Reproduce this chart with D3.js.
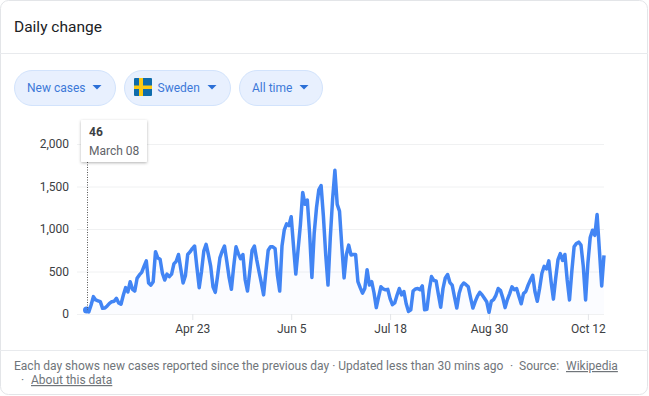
<!DOCTYPE html>
<html>
<head>
<meta charset="utf-8">
<script src="https://cdn.jsdelivr.net/npm/d3@7"></script>
<style>
    html, body { margin: 0; padding: 0; background: #fff; }
    svg { display: block; font-family: Roboto, sans-serif; }
</style>
</head>
<body>
<div id="chart"></div>
<script>
// Daily values from March 8 to October 19
const startDate = new Date(2020, 2, 8);
const endDate = new Date(2020, 9, 19);
const newCases = [
    46, 25, 106, 204, 165, 155, 145, 67, 70, 95, 125, 145, 150, 185,
    130, 115, 220, 310, 260, 380, 290, 270, 420, 460, 490, 560, 625, 365,
    340, 380, 733, 660, 645, 480, 400, 470, 440, 470, 590, 620, 700, 530,
    365, 450, 700, 730, 770, 800, 550, 310, 500, 740, 820, 700, 560, 320,
    255, 450, 660, 740, 800, 620, 430, 290, 560, 790, 710, 650, 700, 400,
    270, 500, 750, 800, 640, 500, 370, 225, 500, 750, 790, 790, 770, 460,
    270, 800, 990, 1060, 1040, 1145, 800, 470, 760, 1050, 1430, 1290, 1340, 950,
    430, 950, 1250, 1460, 1510, 1150, 700, 340, 900, 1350, 1690, 1290, 1210, 800,
    425, 700, 810, 695, 700, 700, 380, 310, 245, 300, 520, 340, 380, 250,
    75, 200, 320, 295, 285, 290, 180, 110, 130, 220, 300, 225, 265, 120,
    30, 50, 270, 295, 300, 285, 330, 50, 55, 280, 440, 395, 390, 230,
    80, 300, 425, 465, 370, 340, 200, 70, 240, 330, 365, 345, 320, 190,
    70, 145, 210, 255, 225, 185, 145, 20, 150, 170, 220, 300, 275, 190,
    75, 170, 240, 320, 285, 300, 210, 120, 240, 265, 340, 400, 455, 260,
    150, 300, 480, 560, 530, 625, 380, 175, 420, 640, 710, 630, 700, 400,
    165, 500, 790, 830, 845, 810, 560, 165, 600, 900, 985, 925, 1170, 750,
    330, 690
];
const yTicks = [0, 500, 1000, 1500, 2000];
const xTicks = [new Date(2020, 3, 23), new Date(2020, 5, 5), new Date(2020, 6, 18), new Date(2020, 7, 30), new Date(2020, 9, 12)];
const chips = [
    { label: "New cases", x: 14, width: 102 },
    { label: "Sweden", x: 124, width: 107, flag: true },
    { label: "All time", x: 239, width: 84 }
];

const width = 649;
const height = 396;
const blue = "#4285f4";

const svg = d3.select("#chart").append("svg")
    .attr("width", width)
    .attr("height", height);

// Card
svg.append("rect")
    .attr("x", 0.5).attr("y", 0.5)
    .attr("width", width - 2).attr("height", height - 2)
    .attr("rx", 8)
    .attr("fill", "#fff")
    .attr("stroke", "#e3e5e8");

svg.append("text")
    .attr("x", 14).attr("y", 32)
    .attr("font-size", 15.5)
    .attr("fill", "#202124")
    .text("Daily change");

svg.append("line")
    .attr("x1", 0).attr("x2", width - 1)
    .attr("y1", 53.5).attr("y2", 53.5)
    .attr("stroke", "#e8eaed");

// Filter chips
const chip = svg.append("g").selectAll("g")
    .data(chips)
    .join("g")
    .attr("transform", d => `translate(${d.x},70)`);

chip.append("rect")
    .attr("x", 0.5).attr("y", 0.5)
    .attr("width", d => d.width - 1).attr("height", 35)
    .attr("rx", 17.5)
    .attr("fill", "#e8f0fe")
    .attr("stroke", "#d2e3fc");

chip.append("text")
    .attr("x", d => d.flag ? 33.5 : 13)
    .attr("y", 22)
    .attr("font-size", 12)
    .attr("fill", "#3c78d8")
    .text(d => d.label);

chip.append("path")
    .attr("d", d => {
        const cx = d.width - 19;
        return `M${cx - 4.5},15L${cx + 4.5},15L${cx},19.5Z`;
    })
    .attr("fill", "#2b6fd6");

// Flag of Sweden
const flag = chip.filter(d => d.flag).append("g").attr("transform", "translate(10,8)");
flag.append("rect").attr("width", 18).attr("height", 18).attr("rx", 1).attr("fill", "#0f6cab");
flag.append("rect").attr("x", 5).attr("width", 4).attr("height", 18).attr("fill", "#fcc912");
flag.append("rect").attr("y", 7.5).attr("width", 18).attr("height", 3.5).attr("fill", "#fcc912");

// Scales
const x = d3.scaleTime().domain([startDate, endDate]).range([86.5, 604]);
const y = d3.scaleLinear().domain([0, 2000]).range([314, 144]);

const points = newCases.map((value, i) => ({ date: d3.timeDay.offset(startDate, i), value }));

// Axes
const yAxis = svg.append("g")
    .attr("transform", "translate(77,0)")
    .call(d3.axisLeft(y).tickValues(yTicks).tickSize(0).tickPadding(8).tickFormat(d3.format(",")));
yAxis.select(".domain").remove();
yAxis.selectAll("line")
    .attr("x2", 527)
    .attr("stroke", "#f0f1f2");
yAxis.selectAll("text")
    .attr("font-family", "Roboto, sans-serif")
    .attr("font-size", 12)
    .attr("fill", "#3c4043");

const xAxis = svg.append("g")
    .attr("transform", "translate(0,314)")
    .call(d3.axisBottom(x).tickValues(xTicks).tickSize(6).tickPadding(4).tickFormat(d3.timeFormat("%b %-d")));
xAxis.select(".domain").remove();
xAxis.selectAll("line").attr("stroke", "#e3e5e8");
xAxis.selectAll("text")
    .attr("font-family", "Roboto, sans-serif")
    .attr("font-size", 12)
    .attr("fill", "#3c4043");

// Area and line
svg.append("path")
    .datum(points)
    .attr("fill", blue)
    .attr("fill-opacity", 0.025)
    .attr("d", d3.area().x(d => x(d.date)).y0(y(0)).y1(d => y(d.value)));

svg.append("path")
    .datum(points)
    .attr("fill", "none")
    .attr("stroke", blue)
    .attr("stroke-width", 3.5)
    .attr("stroke-linejoin", "round")
    .attr("d", d3.line().x(d => x(d.date)).y(d => y(d.value)));

// Hover marker and tooltip
const first = points[0];
svg.append("circle")
    .attr("cx", x(first.date)).attr("cy", y(first.value))
    .attr("r", 3.5)
    .attr("fill", blue);

svg.append("line")
    .attr("x1", x(first.date) + 1).attr("x2", x(first.date) + 1)
    .attr("y1", 162).attr("y2", y(first.value))
    .attr("stroke", "#555")
    .attr("stroke-dasharray", "1,1.5");

const shadow = svg.append("defs").append("filter")
    .attr("id", "tip-shadow")
    .attr("x", "-20%").attr("y", "-20%")
    .attr("width", "140%").attr("height", "140%");
shadow.append("feDropShadow")
    .attr("dx", 0).attr("dy", 1)
    .attr("stdDeviation", 1.5)
    .attr("flood-color", "#000")
    .attr("flood-opacity", 0.3);

const tip = svg.append("g").attr("transform", "translate(81,120)");
tip.append("rect")
    .attr("width", 66).attr("height", 42)
    .attr("rx", 1)
    .attr("fill", "#fff")
    .attr("filter", "url(#tip-shadow)");
tip.append("text")
    .attr("x", 8).attr("y", 16)
    .attr("font-size", 12)
    .attr("font-weight", 700)
    .attr("fill", "#3c4043")
    .text(d3.format(",")(first.value));
tip.append("text")
    .attr("x", 8).attr("y", 35)
    .attr("font-size", 12)
    .attr("fill", "#5f6368")
    .text(d3.timeFormat("%B %d")(first.date));

// Footer
svg.append("line")
    .attr("x1", 0).attr("x2", width - 1)
    .attr("y1", 350.5).attr("y2", 350.5)
    .attr("stroke", "#e8eaed");

const footer = svg.append("g")
    .attr("font-size", 12)
    .attr("fill", "#70757a");
footer.append("text")
    .attr("x", 14).attr("y", 370)
    .text("Each day shows new cases reported since the previous day · Updated less than 30 mins ago");
footer.append("text").attr("x", 510).attr("y", 370).text("·");
footer.append("text").attr("x", 519).attr("y", 370).text("Source:");
footer.append("text").attr("x", 566).attr("y", 370).attr("text-decoration", "underline").text("Wikipedia");
footer.append("text").attr("x", 21).attr("y", 384).text("·");
footer.append("text").attr("x", 31).attr("y", 384).attr("text-decoration", "underline").text("About this data");
</script>
</body>
</html>
